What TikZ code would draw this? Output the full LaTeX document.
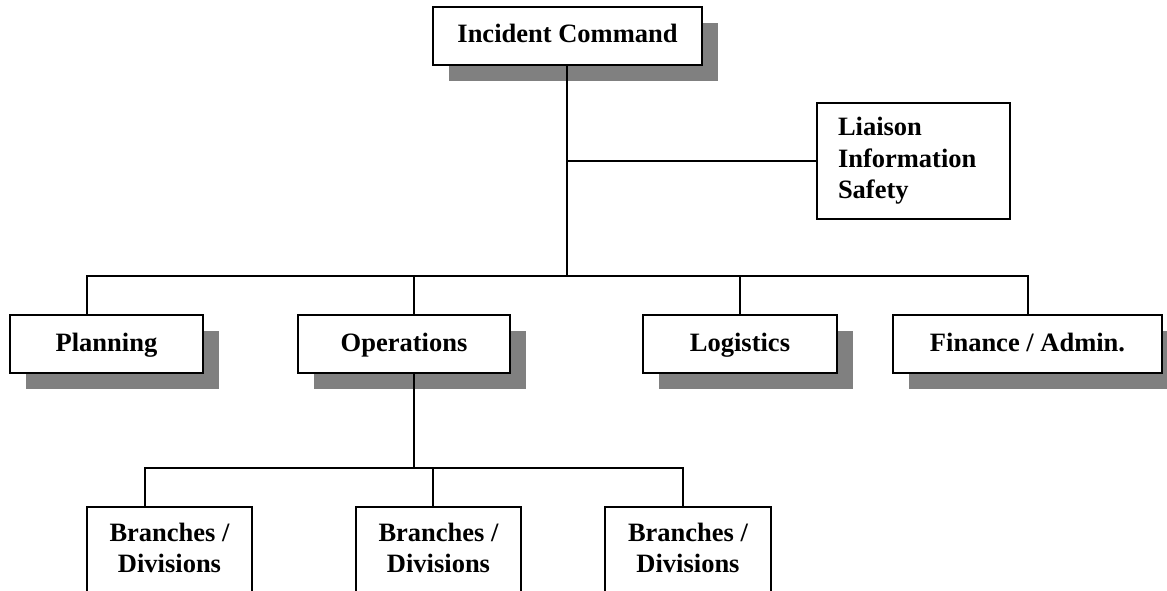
\documentclass[tikz,border=0pt]{standalone}
\usepackage{fontspec}
\setmainfont{Liberation Serif}
\usetikzlibrary{shadows}
\definecolor{shadowgray}{HTML}{808080}
\tikzset{
  chartfont/.style={font=\fontsize{26.5}{31.5}\selectfont\bfseries},
  box/.style={draw, line width=2pt, fill=white, rectangle, inner sep=0pt, chartfont},
  oneline/.style={text height=16pt, text depth=2pt},
  shadowed/.style={drop shadow={shadow xshift=16pt, shadow yshift=-16pt, fill=shadowgray, opacity=1}},
  link/.style={line width=2pt, line cap=rect}
}
\begin{document}
\begin{tikzpicture}[x=1pt, y=-1pt]
  \clip (0,0) rectangle (1167,591);
  \fill[white] (0,0) rectangle (1167,591);

  % top level
  \node[box, oneline, shadowed, minimum width=269, minimum height=58] (ic) at (567.5,36) {Incident Command};
  \node[box, minimum width=193, minimum height=115, text width=151, align=left] (lia) at (913.5,161)
    {Liaison\\Information\\Safety};

  % sections
  \node[box, oneline, shadowed, minimum width=193, minimum height=58] (plan) at (106.5,344) {Planning};
  \node[box, oneline, shadowed, minimum width=212, minimum height=58] (ops) at (404,344) {Operations};
  \node[box, oneline, shadowed, minimum width=194, minimum height=58] (log) at (740,344) {Logistics};
  \node[box, oneline, shadowed, minimum width=269, minimum height=58] (fin) at (1027.5,344) {Finance / Admin.};

  % branches / divisions (boxes run past the lower edge)
  \node[box, minimum width=165, minimum height=110] (b1) at (169.5,562) {};
  \node[box, minimum width=165, minimum height=110] (b2) at (438.5,562) {};
  \node[box, minimum width=166, minimum height=110] (b3) at (688,562) {};
  \node[chartfont, align=center, inner sep=0pt] (b1t) at (169.5,548) {Branches /\\Divisions};
  \node[chartfont, align=center, inner sep=0pt] (b2t) at (438.5,548) {Branches /\\Divisions};
  \node[chartfont, align=center, inner sep=0pt] (b3t) at (688,548) {Branches /\\Divisions};

  % junction points
  \coordinate (hub) at (567,276);
  \coordinate (opsjunc) at (414,468);

  % connectors
  \draw[link] ([xshift=-0.5pt]ic.south) -- (hub);
  \draw[link] (hub |- lia.west) -- (lia.west);
  \draw[link] ([xshift=-19.5pt]plan.north) |- ([xshift=0.5pt]fin.north |- hub) -- ([xshift=0.5pt]fin.north);
  \draw[link] ([xshift=10pt]ops.north) -- ([xshift=10pt]ops.north |- hub);
  \draw[link] (log.north) -- (log.north |- hub);
  \draw[link] ([xshift=10pt]ops.south) -- (opsjunc);
  \draw[link] ([xshift=-24.5pt]b1.north) |- ([xshift=-5pt]b3.north |- opsjunc) -- ([xshift=-5pt]b3.north);
  \draw[link] ([xshift=-5.5pt]b2.north) -- ([xshift=-5.5pt]b2.north |- opsjunc);
\end{tikzpicture}
\end{document}
